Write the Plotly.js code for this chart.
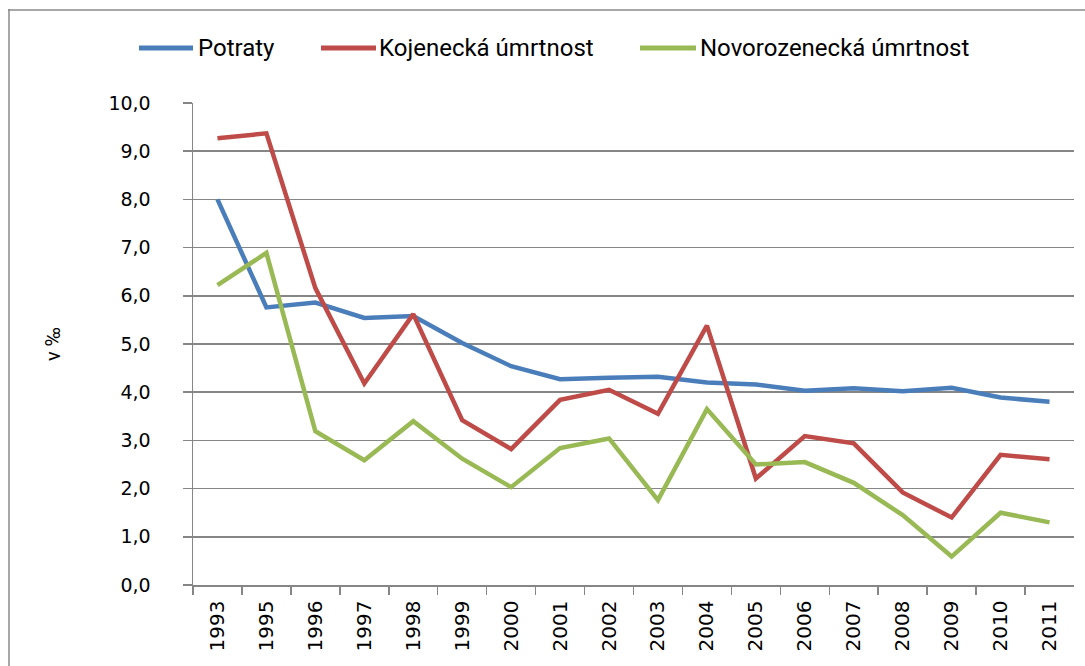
<!DOCTYPE html>
<html>
<head>
<meta charset="utf-8">
<script src="https://cdn.plot.ly/plotly-3.0.1.min.js"></script>
<style>
html,body{margin:0;padding:0;background:#fff;overflow:hidden;}
#chart{width:1085px;height:666px;}
</style>
</head>
<body>
<div id="chart"></div>
<script>
// ---- data ----
const years = ['1993','1995','1996','1997','1998','1999','2000','2001','2002','2003','2004','2005','2006','2007','2008','2009','2010','2011'];
const potraty = [8.00, 5.76, 5.86, 5.54, 5.58, 5.02, 4.54, 4.27, 4.30, 4.32, 4.20, 4.16, 4.03, 4.08, 4.02, 4.09, 3.89, 3.80];
const kojenecka = [9.27, 9.37, 6.16, 4.18, 5.62, 3.42, 2.82, 3.84, 4.05, 3.55, 5.38, 2.21, 3.09, 2.94, 1.92, 1.40, 2.70, 2.61];
const novorozenecka = [6.22, 6.89, 3.19, 2.59, 3.40, 2.62, 2.03, 2.84, 3.04, 1.76, 3.65, 2.50, 2.55, 2.12, 1.45, 0.59, 1.50, 1.30];
const seriesNames = ['Potraty', 'Kojenecká úmrtnost', 'Novorozenecká úmrtnost'];
const yTitle = 'v ‰';

// ---- layout geometry (pixels) ----
const W = 1085, H = 666;
const FL = 8, FT = 9;                 // chart frame top-left corner
const L = 193, R = 1074, T = 103, B = 585; // plot area
const PW = W - FL, PH = H - FT;       // paper size
const px = p => (p - FL) / PW;
const py = p => (H - p) / PH;

const colors = ['#4A7EBB', '#BE4B48', '#98B954'];
const seriesValues = [potraty, kojenecka, novorozenecka];

const traces = seriesValues.map((vals, i) => ({
  type: 'scatter',
  mode: 'lines',
  x: years,
  y: vals,
  name: seriesNames[i],
  line: {color: colors[i], width: 4.5},
  showlegend: false,
  hoverinfo: 'x+y+name'
}));

// custom legend (Excel style long line keys)
const legLine = [[139, 193], [321, 376], [640, 696]];
const legText = [198, 379, 700];
const legY = 48;

// chart frame: top and left edges
const frameColor = '#8a8a8a';
const shapes = [
  {type: 'line', xref: 'paper', yref: 'paper', x0: px(FL), x1: px(W), y0: py(FT + 1), y1: py(FT + 1),
   line: {color: frameColor, width: 1.5}},
  {type: 'line', xref: 'paper', yref: 'paper', x0: px(FL + 1), x1: px(FL + 1), y0: py(FT), y1: py(H),
   line: {color: frameColor, width: 1.5}}
];
const annotations = [];
seriesNames.forEach((n, i) => {
  shapes.push({
    type: 'line', xref: 'paper', yref: 'paper',
    x0: px(legLine[i][0]), x1: px(legLine[i][1]), y0: py(legY), y1: py(legY),
    line: {color: colors[i], width: 5}
  });
  annotations.push({
    xref: 'paper', yref: 'paper', x: px(legText[i] - 2), y: py(legY),
    xanchor: 'left', yanchor: 'middle', showarrow: false,
    text: n, font: {family: 'Roboto, sans-serif', size: 24, color: '#000'}
  });
});

const layout = {
  width: W, height: H, autosize: false,
  margin: {l: FL, r: 0, t: FT, b: 0, pad: 0},
  paper_bgcolor: '#fff', plot_bgcolor: '#fff',
  separators: ', ',
  font: {family: 'DejaVu Sans, sans-serif', size: 20, color: '#000'},
  showlegend: false,
  xaxis: {
    type: 'category',
    domain: [px(L), px(R)],
    range: [-0.5, years.length - 0.5],
    showgrid: false, zeroline: false,
    showline: true, linecolor: '#868686', linewidth: 1.5,
    ticks: 'outside', ticklen: 8, tickcolor: '#868686', tickwidth: 1.5,
    tickson: 'boundaries',
    tickangle: -90,
    ticklabelstandoff: 6,
    tickfont: {family: 'DejaVu Sans, sans-serif', size: 20, color: '#000'},
    automargin: false
  },
  yaxis: {
    domain: [py(B), py(T)],
    range: [0, 10],
    dtick: 1, tick0: 0,
    tickformat: '.1f',
    showgrid: true, gridcolor: '#868686', gridwidth: 1.5,
    zeroline: false,
    showline: true, linecolor: '#868686', linewidth: 1.5,
    ticks: 'outside', ticklen: 9, tickcolor: '#868686', tickwidth: 1.5,
    ticklabelstandoff: 28,
    tickfont: {family: 'DejaVu Sans, sans-serif', size: 19, color: '#000'},
    title: {text: yTitle, font: {family: 'Roboto, sans-serif', size: 20, color: '#000'}, standoff: 42},
    automargin: false
  },
  shapes: shapes,
  annotations: annotations
};

Plotly.newPlot('chart', traces, layout, {displayModeBar: false, staticPlot: true});
</script>
</body>
</html>
